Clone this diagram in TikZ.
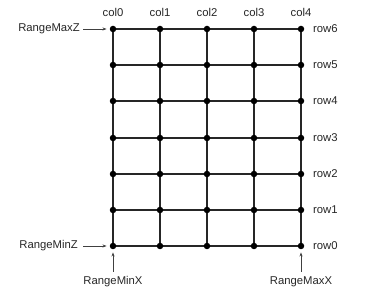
\documentclass[tikz,border=0pt]{standalone}
\usepackage{fontspec}
\setmainfont{Liberation Sans}
\usetikzlibrary{arrows.meta}
\begin{document}
\begin{tikzpicture}[x=1pt,y=-1pt,
  lbl/.style={font=\fontsize{11.3}{13}\selectfont,text=black!85,inner sep=0pt},
  gridline/.style={draw=black!85,line width=1.2pt},
  dot/.style={circle,fill=black,inner sep=0pt,minimum size=6.5pt},
  ptr/.style={draw=black!75,line width=0.6pt,-{Stealth[length=4pt,width=3pt]}}]
\useasboundingbox (0,0) rectangle (365,304);
% grid coordinates
\foreach \i/\x in {0/113,1/160,2/207,3/254,4/301}{
  \foreach \j/\y in {0/246,1/210,2/174,3/138,4/101,5/65,6/29}{
    \coordinate (g\i\j) at (\x,\y);
  }
}
% horizontal lines
\foreach \j in {0,...,6}{ \draw[gridline] (g0\j) -- (g4\j); }
% vertical lines
\foreach \i in {0,...,4}{ \draw[gridline] (g\i0) -- (g\i6); }
% dots
\foreach \i in {0,...,4}{ \foreach \j in {0,...,6}{ \node[dot] (d\i\j) at (g\i\j) {}; } }
% column labels
\foreach \i in {0,...,4}{ \node[lbl,anchor=south] (c\i) at ([yshift=12pt]g\i6) {col\i}; }
% row labels
\foreach \j in {0,...,6}{ \node[lbl,anchor=west] (r\j) at ([xshift=12pt]g4\j) {row\j}; }
% range labels
\node[lbl,anchor=east] (maxz) at (80,29) {RangeMaxZ};
\node[lbl,anchor=east] (minz) at (78,246) {RangeMinZ};
\node[lbl] (minx) at (113,282) {RangeMinX};
\node[lbl] (maxx) at (301,282) {RangeMaxX};
\draw[ptr] ([xshift=3pt]maxz.east) -- ([xshift=-3pt]d06.west);
\draw[ptr] ([xshift=5pt]minz.east) -- ([xshift=-3pt]d00.west);
\draw[ptr] ([yshift=5pt]minx.north) -- ([yshift=-3pt]d00.south);
\draw[ptr] ([yshift=5pt]maxx.north) -- ([yshift=-3pt]d40.south);
\end{tikzpicture}
\end{document}
